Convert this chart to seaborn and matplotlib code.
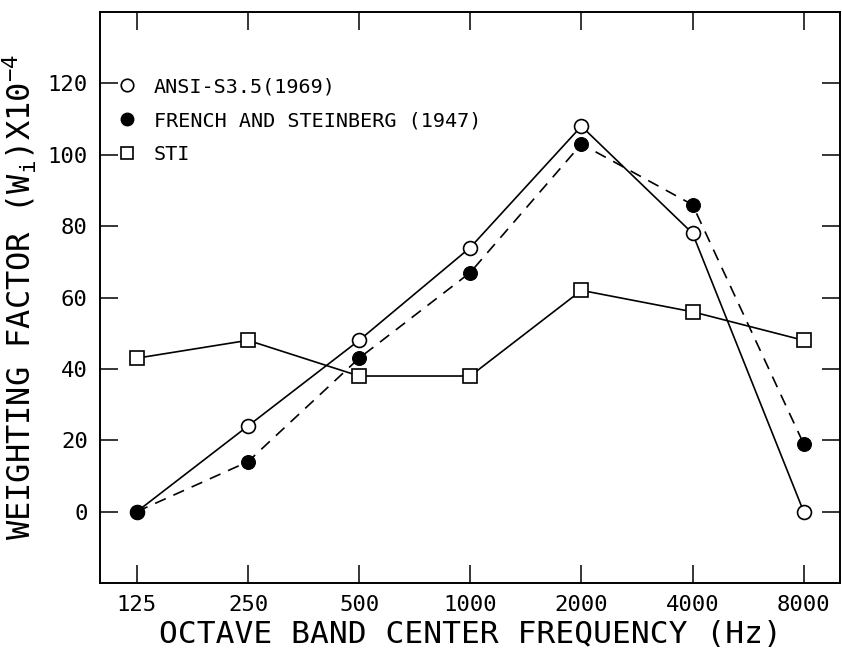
import pandas as pd
import numpy as np
from matplotlib import pyplot as plt
from matplotlib.lines import Line2D
import seaborn as sns

freqs = ['125', '250', '500', '1000', '2000', '4000', '8000']
ansi = [0, 24, 48, 74, 108, 78, 0]
french = [0, 14, 43, 67, 103, 86, 19]
sti = [43, 48, 38, 38, 62, 56, 48]

sns.set_style('ticks')
plt.rcParams['font.family'] = ['DejaVu Sans Mono']
plt.rcParams['mathtext.fontset'] = 'custom'
plt.rcParams['mathtext.rm'] = 'DejaVu Sans Mono'
plt.rcParams['mathtext.it'] = 'DejaVu Sans Mono'
plt.rcParams['text.color'] = 'black'
plt.rcParams['axes.labelcolor'] = 'black'

df = pd.DataFrame({'pos': np.arange(len(freqs)), 'ansi': ansi, 'french': french, 'sti': sti})

fig = plt.figure(figsize=(8.42, 6.49), dpi=100)
ax = fig.add_axes([0.119, 0.1017, 0.879, 0.8798])

sns.lineplot(data=df, x='pos', y='ansi', ax=ax, color='black', lw=1.2,
             marker='o', markersize=10, markerfacecolor='white', markeredgecolor='black', markeredgewidth=1.2)
sns.lineplot(data=df, x='pos', y='french', ax=ax, color='black', lw=1.2, linestyle=(0, (7, 5)),
             marker='o', markersize=10, markerfacecolor='black', markeredgecolor='black')
sns.lineplot(data=df, x='pos', y='sti', ax=ax, color='black', lw=1.2,
             marker='s', markersize=10, markerfacecolor='white', markeredgecolor='black', markeredgewidth=1.2)

ax.set_xlim(-0.33, 6.33)
ax.set_ylim(-20, 140)
ax.set_xticks(df['pos'])
ax.set_xticklabels(freqs)
ax.set_yticks(np.arange(0, 121, 20))
ax.tick_params(direction='in', top=True, right=True, length=13, width=1.1,
               labelsize=16, pad=9, colors='black')
for s in ax.spines.values():
    s.set_linewidth(1.4)
    s.set_color('black')

ax.set_xlabel('OCTAVE BAND CENTER FREQUENCY (Hz)', fontsize=22.5, labelpad=3)
ax.set_ylabel(r'WEIGHTING FACTOR (W$_{\mathrm{i}}$)X10$^{-4}$', fontsize=23, labelpad=6)

handles = [
    Line2D([], [], ls='none', marker='o', ms=9, mfc='white', mec='black', mew=1.2),
    Line2D([], [], ls='none', marker='o', ms=9, mfc='black', mec='black'),
    Line2D([], [], ls='none', marker='s', ms=9, mfc='white', mec='black', mew=1.2),
]
labels = ['ANSI-S3.5(1969)', 'FRENCH AND STEINBERG (1947)', 'STI']
ax.legend(handles, labels, loc='upper left', bbox_to_anchor=(0.015, 0.90), frameon=False,
          fontsize=14.5, handlelength=0.8, handletextpad=0.9, labelspacing=0.75, borderaxespad=0)

fig.savefig('out.png', dpi=100)
